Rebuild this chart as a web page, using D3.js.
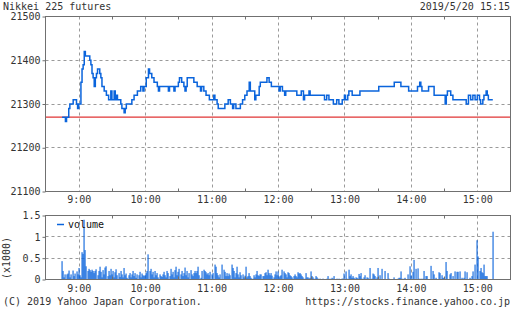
<!DOCTYPE html>
<html>
<head>
<meta charset="utf-8">
<script src="https://cdn.jsdelivr.net/npm/d3@7"></script>
<style>
  body { margin: 0; background: #fff; }
  svg { display: block; font-family: "DejaVu Sans Mono", monospace; font-size: 10px; }
</style>
</head>
<body>
<script>
'use strict';

// price (1 min steps, only the changes)
var priceTimes = ['8:45','8:48','8:49','8:51','8:52','8:55','8:58','8:59','9:00','9:02','9:03','9:04','9:05','9:06',
  '9:10','9:11','9:12','9:13','9:14','9:15','9:16','9:17','9:19','9:20','9:21','9:23','9:25','9:27','9:29','9:30',
  '9:32','9:33','9:34','9:35','9:38','9:39','9:41','9:42','9:43','9:48','9:50','9:53','9:56','9:58','9:59','10:01',
  '10:03','10:04','10:06','10:08','10:11','10:12','10:13','10:21','10:22','10:26','10:27','10:30','10:31','10:33',
  '10:35','10:36','10:37','10:38','10:44','10:47','10:50','10:51','10:53','10:55','10:58','11:02','11:03','11:05',
  '11:06','11:12','11:15','11:17','11:19','11:20','11:22','11:26','11:28','11:30','11:32','11:34','11:35','11:39',
  '11:40','11:43','11:44','11:50','11:52','11:54','12:01','12:02','12:04','12:06','12:07','12:17','12:21','12:23',
  '12:24','12:28','12:29','12:42','12:44','12:46','12:50','12:53','12:55','12:58','13:00','13:01','13:03','13:04',
  '13:07','13:14','13:31','13:45','13:51','13:58','14:06','14:08','14:09','14:10','14:16','14:21','14:31','14:32',
  '14:33','14:36','14:38','14:50','14:52','14:54','14:56','14:58','15:00','15:02','15:03','15:05','15:06','15:08',
  '15:09','15:10','15:14'];
var priceValues = [21270,21260,21270,21290,21300,21310,21300,21290,21300,21350,21380,21390,21420,21410,
  21400,21390,21370,21360,21340,21360,21370,21380,21370,21360,21340,21330,21320,21310,21330,21310,
  21330,21310,21320,21310,21300,21290,21280,21290,21300,21310,21320,21330,21340,21330,21340,21360,
  21380,21370,21360,21350,21340,21330,21340,21330,21340,21330,21340,21350,21360,21350,
  21340,21330,21340,21360,21350,21340,21330,21340,21330,21320,21310,21320,21310,21300,
  21290,21300,21310,21300,21290,21300,21290,21300,21310,21320,21330,21350,21330,21310,
  21320,21340,21350,21360,21350,21340,21330,21340,21330,21320,21330,21320,21330,21310,
  21320,21330,21320,21310,21320,21310,21300,21310,21300,21310,21320,21310,21320,21330,
  21320,21330,21340,21350,21340,21330,21340,21350,21340,21330,21340,21320,21300,21320,
  21330,21320,21310,21300,21320,21310,21320,21310,21320,21310,21300,21310,21320,21330,
  21320,21310,21310];
var prevClose = 21270;

// volume (x1000), one value per minute from 8:45, one row per quarter hour
var volumeStart = '8:45';
var volume = [
  0.43,0.2,0.05,0.12,0.12,0.14,0.21,0.05,0.12,0,0.21,0.08,0.14,0.19,0.12,
  0.27,0.1,0.05,0.64,0.6,1.4,0.69,0.31,0.2,0.25,0.22,0.18,0.23,0.2,0.15,
  0.2,0.24,0.1,0.2,0.3,0.18,0.05,0.22,0.12,0.28,0.31,0.08,0.2,0.1,0.25,
  0.12,0.2,0.05,0.17,0.24,0.1,0.15,0.06,0.2,0.12,0.05,0.27,0.1,0.14,0.04,
  0.1,0.15,0.05,0.12,0.2,0.08,0.15,0.04,0.12,0.1,0.18,0.05,0.14,0.1,0.08,
  0.1,0.15,0.2,0.59,0.2,0.25,0.12,0.18,0.05,0.2,0.1,0.15,0.05,0.12,0.08,
  0.06,0.12,0.18,0.1,0.05,0.2,0.15,0.08,0.25,0.12,0.18,0.05,0.22,0.3,0.1,
  0.18,0.25,0.12,0.2,0.08,0.15,0.28,0.1,0.2,0.05,0.15,0.22,0.12,0.08,0.15,
  0.2,0.15,0.2,0.3,0.1,0.04,0.2,0,0.23,0.2,0.17,0.12,0.15,0.1,0.18,
  0.12,0.15,0,0.35,0.3,0.15,0.1,0.05,0.12,0.35,0,0.23,0.18,0.08,0.15,
  0.08,0.14,0.1,0.35,0.27,0.2,0.05,0.15,0.3,0.12,0.05,0.17,0.1,0.12,0.05,
  0.09,0.3,0.05,0.08,0.15,0.08,0.04,0.02,0.1,0.05,0.12,0.2,0.1,0.08,0.12,
  0.12,0.08,0.08,0.15,0.17,0.1,0.23,0.15,0.1,0.15,0.09,0.05,0.12,0.19,0.1,
  0.19,0.05,0.08,0.1,0.23,0.19,0.15,0.12,0.05,0.17,0.15,0.1,0.08,0.05,0.08,
  0.12,0.08,0.05,0.17,0.14,0.15,0.12,0.08,0.05,0.02,0.15,0.05,0.05,0.02,0.04,
  0.19,0.08,0.05,0.02,0.08,0.05,0.02,0,0.02,0,0,0.02,0.01,0,0.02,
  0.08,0,0.02,0.01,0.04,0.02,0.08,0,0.02,0.01,0.02,0,0.01,0.02,0.02,
  0.14,0.19,0.02,0,0.23,0.08,0.12,0.04,0.08,0.04,0.05,0.04,0.02,0.13,0.08,
  0.15,0.02,0,0.05,0.1,0.05,0.04,0,0.27,0,0.02,0.14,0.12,0.08,0.05,
  0.27,0,0.1,0,0.25,0,0,0.2,0,0.15,0.02,0,0,0,0,
  0.05,0,0,0.02,0.04,0.04,0.19,0.02,0,0.02,0.04,0,0.12,0,0.31,
  0.09,0,0.18,0.46,0,0.25,0.26,0.02,0,0.02,0,0.02,0.2,0,0.08,
  0.08,0,0,0.32,0,0.2,0.12,0,0.04,0,0.17,0.15,0,0.1,0.04,
  0.04,0,0.41,0.2,0,0.12,0.15,0,0.08,0,0.19,0,0.18,0.18,0.19,
  0,0.04,0,0.04,0.19,0,0.17,0,0.04,0,0.08,0.19,0,0.35,0,
  0.92,0.54,0.2,0.27,0.17,0.15,0.35,0.08,0.08,0.08,0,0,0,0,1.12
];

var priceTicks = [21100,21200,21300,21400,21500];
var volumeTicks = [0,0.5,1,1.5];
var volumeTickLabels = ['0','0.5','1','1.5'];

var blue = '#0a64dc',
  grid = '#9a9a9a',
  frame = '#707070',
  ink = '#333';

var parse = d3.timeParse('%H:%M');
var width = 512, height = 310;

var svg = d3.select('body').append('svg')
  .attr('width', width)
  .attr('height', height);

var x = d3.scaleTime()
  .domain([parse('8:30'), parse('15:30')])
  .range([45.5, 510.5]);
var yP = d3.scaleLinear().domain([21100, 21500]).range([191.5, 16.5]);
var yV = d3.scaleLinear().domain([0, 1.5]).range([279.5, 215.5]);

var hours = x.ticks(d3.timeHour.every(1));
var halves = x.ticks(d3.timeMinute.every(30)).filter(function(d){
  return d.getMinutes() === 30 && d > x.domain()[0] && d < x.domain()[1];
});

function panel(y, ticks){
  var g = svg.append('g');
  var top = y.range()[1], bottom = y.range()[0];
  // grid
  g.selectAll('.vg').data(hours).enter().append('line')
    .attr('x1', function(d){ return Math.round(x(d)) + 0.5; })
    .attr('x2', function(d){ return Math.round(x(d)) + 0.5; })
    .attr('y1', top).attr('y2', bottom)
    .attr('stroke', grid).attr('stroke-dasharray', '3,3');
  g.selectAll('.hg').data(ticks.slice(1, -1)).enter().append('line')
    .attr('x1', x.range()[0]).attr('x2', x.range()[1])
    .attr('y1', function(d){ return Math.round(y(d) - 0.5) + 0.5; })
    .attr('y2', function(d){ return Math.round(y(d) - 0.5) + 0.5; })
    .attr('stroke', grid).attr('stroke-dasharray', '3,3');
  return g;
}

function frameAndTicks(y){
  var top = y.range()[1], bottom = y.range()[0];
  svg.append('rect')
    .attr('x', x.range()[0]).attr('y', top)
    .attr('width', x.range()[1] - x.range()[0])
    .attr('height', bottom - top)
    .attr('fill', 'none').attr('stroke', frame);
  svg.selectAll(null).data(halves).enter().append('line')
    .attr('x1', function(d){ return Math.round(x(d)) + 0.5; })
    .attr('x2', function(d){ return Math.round(x(d)) + 0.5; })
    .attr('y1', top).attr('y2', top + 3)
    .attr('stroke', frame);
  svg.selectAll(null).data(halves).enter().append('line')
    .attr('x1', function(d){ return Math.round(x(d)) + 0.5; })
    .attr('x2', function(d){ return Math.round(x(d)) + 0.5; })
    .attr('y1', bottom).attr('y2', bottom - 3)
    .attr('stroke', frame);
}

function styleAxis(g){
  g.select('.domain').remove();
  g.selectAll('line').attr('stroke', frame);
  g.selectAll('text')
    .attr('fill', ink)
    .style('font-family', '"DejaVu Sans Mono", monospace')
    .style('font-size', '10px');
}

// ---------- price panel ----------
panel(yP, priceTicks);

svg.append('line')
  .attr('x1', x.range()[0]).attr('x2', x.range()[1])
  .attr('y1', yP(prevClose)).attr('y2', yP(prevClose))
  .attr('stroke', '#e03434').attr('stroke-width', 1.2);

var priceData = priceTimes.map(function(t, i){ return {t: parse(t), v: priceValues[i]}; });

svg.append('path')
  .datum(priceData)
  .attr('fill', 'none')
  .attr('stroke', blue)
  .attr('stroke-width', 1.5)
  .attr('d', d3.line()
    .x(function(d){ return x(d.t); })
    .y(function(d){ return yP(d.v); })
    .curve(d3.curveStepAfter));

frameAndTicks(yP);

svg.append('g')
  .attr('transform', 'translate(' + x.range()[0] + ',0)')
  .call(d3.axisLeft(yP).tickValues(priceTicks).tickFormat(d3.format('d')).tickSize(3).tickPadding(2))
  .call(styleAxis);

svg.append('g')
  .attr('transform', 'translate(0,' + yP.range()[0] + ')')
  .call(d3.axisBottom(x).tickValues(hours).tickFormat(d3.timeFormat('%-H:%M')).tickSize(0).tickPadding(4.5))
  .call(styleAxis);

// ---------- volume panel ----------
panel(yV, volumeTicks);

var t0 = parse(volumeStart);
var volumeData = volume.map(function(v, i){ return {t: d3.timeMinute.offset(t0, i), v: v}; })
  .filter(function(d){ return d.v > 0; });

svg.selectAll('.bar').data(volumeData).enter().append('rect')
  .attr('x', function(d){ return Math.round(x(d.t)) - 0.5; })
  .attr('width', 1.1)
  .attr('y', function(d){ return yV(d.v); })
  .attr('height', function(d){ return yV(0) - yV(d.v); })
  .attr('fill', blue);

frameAndTicks(yV);

svg.append('g')
  .attr('transform', 'translate(' + x.range()[0] + ',0)')
  .call(d3.axisLeft(yV).tickValues(volumeTicks)
    .tickFormat(function(d, i){ return volumeTickLabels[i]; })
    .tickSize(3).tickPadding(2))
  .call(styleAxis);

svg.append('g')
  .attr('transform', 'translate(0,' + yV.range()[0] + ')')
  .call(d3.axisBottom(x).tickValues(hours).tickFormat(d3.timeFormat('%-H:%M')).tickSize(0).tickPadding(5))
  .call(styleAxis);

// legend
svg.append('line')
  .attr('x1', 57).attr('x2', 64).attr('y1', 224.5).attr('y2', 224.5)
  .attr('stroke', blue).attr('stroke-width', 1.5);
svg.append('text').attr('x', 68).attr('y', 228).attr('fill', '#111').text('volume');

svg.append('text')
  .attr('transform', 'translate(10,258) rotate(-90)')
  .attr('text-anchor', 'middle')
  .attr('fill', ink)
  .text('(x1000)');

// header / footer
svg.append('text').attr('x', 3).attr('y', 10).attr('fill', ink).text('Nikkei 225 futures');
svg.append('text').attr('x', 510).attr('y', 10).attr('text-anchor', 'end').attr('fill', ink).text('2019/5/20 15:15');
svg.append('text').attr('x', 3).attr('y', 305).attr('fill', ink).text('(C) 2019 Yahoo Japan Corporation.');
svg.append('text').attr('x', 510).attr('y', 305).attr('text-anchor', 'end').attr('fill', ink).text('https://stocks.finance.yahoo.co.jp');
</script>
</body>
</html>
